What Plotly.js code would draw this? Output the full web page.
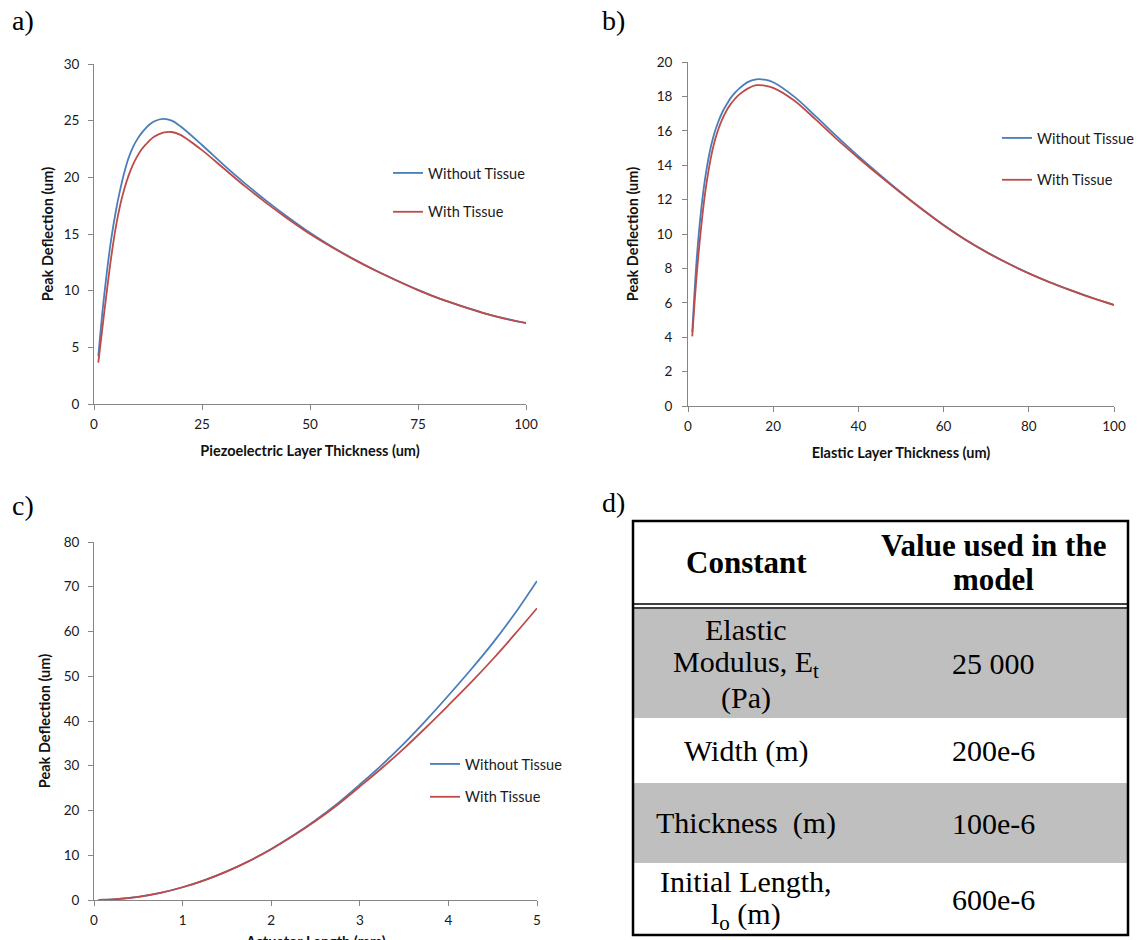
<!DOCTYPE html>
<html>
<head>
<meta charset="utf-8">
<script src="https://cdn.plot.ly/plotly-3.0.1.min.js"></script>
<style>
  html, body { margin: 0; padding: 0; background: #ffffff; }
  #chart { width: 1141px; height: 940px; }
</style>
</head>
<body>
<div id="chart"></div>
<script>
// ---------------- DATA ----------------
const seriesNames = ["Without Tissue", "With Tissue"];

// a) Peak deflection vs piezoelectric layer thickness (um)
const piezoThickness = [1, 2, 3, 4, 5, 6, 7, 8, 9, 10, 11, 12, 13, 14, 16, 18, 20, 25, 30, 35, 40, 45, 50, 55, 60, 65, 70, 75, 80, 85, 90, 95, 100];
const piezoWithout  = [4.2, 8.3, 11.7, 14.6, 16.9, 18.8, 20.4, 21.7, 22.65, 23.35, 23.9, 24.35, 24.7, 24.95, 25.15, 25.0, 24.5, 22.85, 21.1, 19.45, 17.9, 16.45, 15.1, 13.9, 12.82, 11.82, 10.92, 10.07, 9.3, 8.65, 8.05, 7.55, 7.15];
const piezoWith     = [3.65, 6.9, 10.05, 13.0, 15.5, 17.45, 18.95, 20.15, 21.1, 21.85, 22.45, 22.9, 23.3, 23.6, 23.95, 24.0, 23.75, 22.4, 20.8, 19.2, 17.7, 16.3, 15.0, 13.85, 12.78, 11.8, 10.9, 10.05, 9.29, 8.64, 8.04, 7.54, 7.14];

// b) Peak deflection vs elastic layer thickness (um)
const elasticThickness = [1, 2, 3, 4, 5, 6, 7, 8, 9, 10, 11, 12, 14, 16, 18, 20, 25, 30, 35, 40, 45, 50, 55, 60, 65, 70, 75, 80, 85, 90, 95, 100];
const elasticWithout  = [4.3, 8.4, 11.2, 13.2, 14.65, 15.7, 16.45, 17.05, 17.5, 17.9, 18.2, 18.45, 18.83, 18.99, 18.97, 18.82, 17.97, 16.84, 15.66, 14.52, 13.45, 12.42, 11.44, 10.52, 9.69, 8.96, 8.31, 7.72, 7.19, 6.72, 6.28, 5.88];
const elasticWith     = [4.05, 7.5, 10.2, 12.35, 13.95, 15.15, 16.0, 16.65, 17.15, 17.55, 17.85, 18.1, 18.45, 18.65, 18.63, 18.5, 17.75, 16.65, 15.5, 14.42, 13.38, 12.38, 11.42, 10.51, 9.68, 8.95, 8.3, 7.71, 7.18, 6.71, 6.27, 5.87];

// c) Peak deflection vs actuator length (mm)
const actuatorLength  = [0.05, 0.25, 0.5, 0.75, 1, 1.25, 1.5, 1.75, 2, 2.25, 2.5, 2.75, 3, 3.25, 3.5, 3.75, 4, 4.25, 4.5, 4.75, 5];
const actuatorWithout = [0, 0.18, 0.72, 1.6, 2.85, 4.45, 6.4, 8.7, 11.4, 14.45, 17.85, 21.6, 25.8, 30.2, 35.0, 40.2, 45.7, 51.4, 57.4, 64.0, 71.3];
const actuatorWith    = [0, 0.18, 0.72, 1.6, 2.85, 4.45, 6.4, 8.7, 11.35, 14.35, 17.65, 21.3, 25.35, 29.5, 33.9, 38.6, 43.5, 48.5, 53.8, 59.4, 65.2];

// d) Table of constants
const tableHeader    = ["Constant", "Value used in the<br>model"];
const tableConstants = ["Elastic<br>Modulus, E<sub>t</sub><br>(Pa)", "Width (m)", "Thickness\u00a0 (m)", "Initial Length,<br>l<sub>o</sub> (m)"];
const tableValues    = ["25 000", "200e-6", "100e-6", "600e-6"];

const panelLabels = ["a)", "b)", "c)", "d)"];

const xTitles = ["Piezoelectric Layer Thickness (um)", "Elastic Layer Thickness (um)", "Actuator Length (mm)"];
const yTitle = "Peak Deflection (um)";

// ---------------- STYLE / LAYOUT ----------------
const W = 1141, H = 940;
const px = x => x / W;
const py = y => 1 - y / H;

const BLUE = "#4a7ebb";
const RED = "#be4b48";
const AXIS_GRAY = "#868686";
const sansFont = "Lato, 'Open Sans', sans-serif";
const serifFont = "'Liberation Serif', 'DejaVu Serif', serif";
const titleFont = { family: sansFont, size: 14.5, color: "#111", weight: "bold" };

function lineTrace(x, y, name, color, xa, ya, legend, group) {
  return {
    type: "scatter", mode: "lines", x: x, y: y, name: name,
    xaxis: xa, yaxis: ya, legend: legend, legendgroup: group,
    line: { color: color, width: 1.8, shape: "spline", smoothing: 0.9 },
    hoverinfo: "x+y+name"
  };
}

const traces = [
  lineTrace(piezoThickness, piezoWithout, seriesNames[0], BLUE, "x", "y", "legend", "a0"),
  lineTrace(piezoThickness, piezoWith, seriesNames[1], RED, "x", "y", "legend", "a1"),
  lineTrace(elasticThickness, elasticWithout, seriesNames[0], BLUE, "x2", "y2", "legend2", "b0"),
  lineTrace(elasticThickness, elasticWith, seriesNames[1], RED, "x2", "y2", "legend2", "b1"),
  lineTrace(actuatorLength, actuatorWithout, seriesNames[0], BLUE, "x3", "y3", "legend3", "c0"),
  lineTrace(actuatorLength, actuatorWith, seriesNames[1], RED, "x3", "y3", "legend3", "c1")
];

function axisBase(extra) {
  return Object.assign({
    showline: true, linecolor: AXIS_GRAY, linewidth: 1,
    ticks: "outside", ticklen: 5, tickwidth: 1, tickcolor: AXIS_GRAY,
    showgrid: false, zeroline: false,
    tickfont: { family: sansFont, size: 13.5, color: "#1a1a1a" },
    fixedrange: true
  }, extra);
}
function xTitle(text, standoff) {
  return { text: text, standoff: standoff, font: titleFont };
}
function yTitleObj(standoff) {
  return { text: yTitle, standoff: standoff, font: titleFont };
}

function legendObj(x, y, gap) {
  return {
    x: px(x), y: py(y), xanchor: "left", yanchor: "top",
    bgcolor: "rgba(0,0,0,0)", borderwidth: 0,
    font: { family: sansFont, size: 14.5, color: "#1a1a1a" },
    tracegroupgap: gap, itemwidth: 30
  };
}

// Table geometry (pixels)
const tLeft = 633, tRight = 1128, tTop = 521, tBottom = 935;
const colSplit = 859;
const headerLines = [604, 608];
const rowEdges = [609, 718, 783, 863, tBottom];
const rowFills = ["#bfbfbf", "#ffffff", "#bfbfbf", "#ffffff"];
const lineStep = 34.5;

const shapes = [];
const annotations = [];

rowFills.forEach((f, i) => {
  shapes.push({
    type: "rect", xref: "paper", yref: "paper", layer: "below",
    x0: px(tLeft + 1), x1: px(tRight - 1), y0: py(rowEdges[i + 1]), y1: py(rowEdges[i]),
    fillcolor: f, line: { width: 0 }
  });
});
headerLines.forEach(yy => {
  shapes.push({
    type: "line", xref: "paper", yref: "paper",
    x0: px(tLeft), x1: px(tRight), y0: py(yy), y1: py(yy),
    line: { color: "#000", width: 1.6 }
  });
});
shapes.push({
  type: "rect", xref: "paper", yref: "paper",
  x0: px(tLeft), x1: px(tRight), y0: py(tBottom), y1: py(tTop),
  line: { color: "#000", width: 2.5 }, fillcolor: "rgba(0,0,0,0)"
});

function cellText(text, cx, cy, bold) {
  const lines = text.split("<br>");
  const n = lines.length;
  lines.forEach((ln, k) => {
    annotations.push({
      xref: "paper", yref: "paper", showarrow: false,
      x: px(cx), y: py(cy + (k - (n - 1) / 2) * lineStep),
      xanchor: "center", yanchor: "middle",
      text: ln,
      font: { family: serifFont, size: bold ? 31 : 30, color: "#000", weight: bold ? "bold" : "normal" }
    });
  });
}
const col1c = (tLeft + colSplit) / 2;
const col2c = (colSplit + tRight) / 2;
const headerCenter = (tTop + headerLines[0]) / 2;
cellText(tableHeader[0], col1c, headerCenter, true);
cellText(tableHeader[1], col2c, headerCenter, true);
tableConstants.forEach((c, i) => {
  const cy = (rowEdges[i] + rowEdges[i + 1]) / 2;
  cellText(c, col1c, cy, false);
  cellText(tableValues[i], col2c, cy, false);
});

// Panel labels
const labelPos = [[10, 20], [600, 20], [10, 505], [600, 503]];
panelLabels.forEach((t, i) => {
  annotations.push({
    xref: "paper", yref: "paper", showarrow: false,
    x: px(labelPos[i][0]), y: py(labelPos[i][1]), xanchor: "left", yanchor: "middle",
    text: t, font: { family: serifFont, size: 28, color: "#000" }
  });
});

// Panel c x-axis title: runs off the bottom edge of the figure as in the original
annotations.push({
  xref: "x3 domain", yref: "paper", showarrow: false,
  x: 0.5, y: py(931), xanchor: "center", yanchor: "top",
  text: xTitles[2], font: titleFont
});

const layout = {
  width: W, height: H,
  margin: { l: 0, r: 0, t: 0, b: 0, pad: 0 },
  paper_bgcolor: "#ffffff", plot_bgcolor: "#ffffff",
  showlegend: true,
  xaxis: axisBase({ domain: [px(94), px(526)], anchor: "y", range: [0, 100], tick0: 0, dtick: 25, ticklabelstandoff: 3, title: xTitle(xTitles[0], 14) }),
  yaxis: axisBase({ domain: [py(404), py(64)], anchor: "x", range: [0, 30], tick0: 0, dtick: 5, ticklabelstandoff: 6, title: yTitleObj(6) }),
  xaxis2: axisBase({ domain: [px(688), px(1114)], anchor: "y2", range: [0, 100], tick0: 0, dtick: 20, ticklabelstandoff: 3, title: xTitle(xTitles[1], 14) }),
  yaxis2: axisBase({ domain: [py(406), py(62)], anchor: "x2", range: [0, 20], tick0: 0, dtick: 2, ticklabelstandoff: 7, title: yTitleObj(14) }),
  xaxis3: axisBase({ domain: [px(94), px(537)], anchor: "y3", range: [0, 5], tick0: 0, dtick: 1, ticklabelstandoff: 3 }),
  yaxis3: axisBase({ domain: [py(900), py(542)], anchor: "x3", range: [0, 80], tick0: 0, dtick: 10, ticklabelstandoff: 6, title: yTitleObj(9) }),
  legend: legendObj(388, 157, 17),
  legend2: legendObj(997, 122, 20),
  legend3: legendObj(425, 748, 11),
  shapes: shapes,
  annotations: annotations
};

Plotly.newPlot("chart", traces, layout, { displayModeBar: false, responsive: false });
</script>
</body>
</html>
